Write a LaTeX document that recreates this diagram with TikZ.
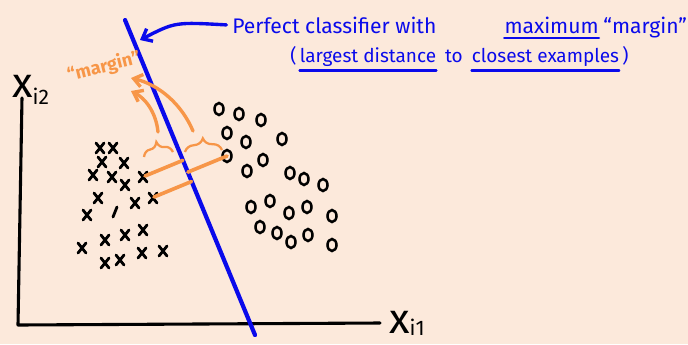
\documentclass[tikz,border=0pt]{standalone}
\usepackage{fontspec}
\setmainfont{Fira Sans}
\usetikzlibrary{arrows.meta,positioning,calc,decorations.pathreplacing}
\definecolor{paper}{RGB}{252,233,219}
\definecolor{pen}{RGB}{10,10,235}
\definecolor{marker}{RGB}{247,150,72}
\tikzset{
  axis/.style={black, line width=2.2pt, line cap=round, line join=round},
  xmark/.style={black, line width=2pt, line cap=round},
  omark/.style={black, line width=1.8pt},
  note/.style={pen, inner sep=0pt, font=\fontsize{15}{15}\selectfont},
  small note/.style={note, font=\fontsize{13.5}{13.5}\selectfont},
  hl/.style={pen, line width=1.6pt, line cap=round},
  gap/.style={marker, line width=2.6pt, line cap=round},
  curly/.style={marker, line width=1.6pt, decorate, decoration={brace, amplitude=9pt}},
}
\begin{document}
\begin{tikzpicture}[x=0.025cm, y=-0.025cm]
  \fill[paper] (0,0) rectangle (688,344);
  \useasboundingbox (0,0) rectangle (688,344);

  % axes
  \draw[axis] (22,98) -- (18,325) -- (380,323);
  \node[anchor=base west, inner sep=0pt] (xtwo) at (12,97)
    {{\fontsize{30}{30}\selectfont x}{\fontsize{15}{15}\selectfont\raisebox{-5pt}{i2}}};
  \node[anchor=base west, inner sep=0pt] (xone) at (389,333)
    {{\fontsize{30}{30}\selectfont x}{\fontsize{15}{15}\selectfont\raisebox{-2pt}{i1}}};

  % separating line
  \coordinate (top) at (125,20);
  \coordinate (bot) at (255,335);
  \draw[pen, line width=3pt, line cap=round] (top) -- (bot);

  % class x
  \foreach \p in {(100,148),(113,148),(102,162),(124,163),(93,175),(112,177),
                  (125,185),(143,177),(98,198),(87,215),(135,203),(153,198),
                  (82,248),(105,240),(125,235),(143,230),(105,263),(120,260),
                  (142,253),(163,251)}
    \draw[xmark] \p +(-4,-5) -- +(4,5) \p +(4,-5) -- +(-4,5);
  \draw[xmark] (115,212) +(2,-5) -- +(-2,5);

  % class o
  \foreach \p in {(219,109),(239,114),(261,120),(227,133),(246,142),(282,139),
                  (227,156),(263,160),(247,171),(290,173),(304,179),(323,185),
                  (251,207),(270,201),(289,213),(307,207),(332,216),(260,227),
                  (277,233),(291,242),(308,235),(332,245)}
    \draw[omark] \p ellipse (4.5 and 6);

  % closest examples and their distance to the line
  \coordinate (nxa) at (145,176);
  \coordinate (nxb) at (154,197);
  \coordinate (nob) at (227,156);
  \coordinate (fa) at ($(top)!(nxa)!(bot)$);
  \coordinate (fb) at ($(top)!(nxb)!(bot)$);
  \coordinate (fo) at ($(top)!(nob)!(bot)$);
  \draw[gap] (nxa) -- (fa);
  \draw[gap] (nxb) -- (fb);
  \draw[gap] (fo) -- (nob);

  % margin braces
  \draw[curly] (144,157) -- (173,152);
  \draw[curly] (185,152) -- (222,150);
  \coordinate (ba) at (158,132);
  \coordinate (bb) at (193,131);
  \node[marker, rotate=14, inner sep=1pt, font=\fontsize{13}{13}\selectfont\bfseries] (mlabel) at (104,67) {``margin''};
  \draw[marker, line width=2.4pt, line cap=round, -{Straight Barb[length=6pt,width=9pt]}]
    (ba) .. controls (156,112) and (145,98) .. (131,91);
  \draw[marker, line width=2.4pt, line cap=round, -{Straight Barb[length=6pt,width=9pt]}]
    (bb) .. controls (182,105) and (160,85) .. (131,78);

  % title
  \node[note, anchor=base west] (tone) at (232,33) {Perfect classifier with};
  \node[note, base right=48pt of tone] (tmax) {maximum};
  \node[note, base right=3pt of tmax] (tmar) {``margin''};
  \draw[hl] ([yshift=-3pt]tmax.south west) -- ([yshift=-3pt]tmax.south east);
  \coordinate (hit) at (140,40);
  \draw[pen, line width=2.4pt, line cap=round, -{Straight Barb[length=6pt,width=10pt]}]
    ([xshift=-4pt]tone.west) .. controls (175,22) .. (hit);

  \node[small note, anchor=base west] (popen) at (290,62) {(};
  \node[small note, base right=2pt of popen] (tdist) {largest distance};
  \node[small note, base right=6pt of tdist] (tto) {to};
  \node[small note, base right=6pt of tto] (tclose) {closest examples};
  \node[small note, base right=2pt of tclose] (pclose) {)};
  \draw[hl] ([yshift=-3pt]tdist.south west) -- ([yshift=-3pt]tdist.south east);
  \draw[hl] ([yshift=-3pt]tclose.south west) -- ([yshift=-3pt]tclose.south east);
\end{tikzpicture}
\end{document}
